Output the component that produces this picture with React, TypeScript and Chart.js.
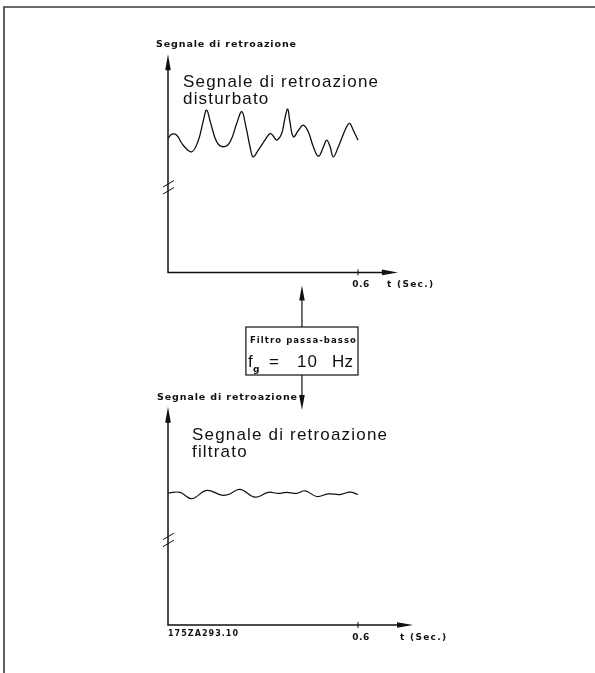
import React, { useEffect, useRef } from "react";
import { Chart, registerables } from "chart.js";

Chart.register(...registerables);

// ---- data ----
const timeDisturbed = [
  0, 0.012, 0.027, 0.048, 0.075, 0.096, 0.112, 0.122, 0.135, 0.154, 0.175, 0.196, 0.217, 0.233,
  0.246, 0.259, 0.269, 0.285, 0.306, 0.322, 0.333, 0.343, 0.359, 0.369, 0.378, 0.385, 0.396,
  0.412, 0.427, 0.443, 0.459, 0.475, 0.491, 0.501, 0.512, 0.522, 0.538, 0.559, 0.573, 0.585, 0.6,
];
const valuesDisturbed = [
  6.08, 6.27, 6.23, 5.77, 5.47, 6.0, 6.91, 7.36, 6.76, 5.92, 5.7, 5.92, 6.76, 7.29,
  6.61, 5.7, 5.24, 5.55, 6.0, 6.3, 6.18, 6.0, 6.3, 6.98, 7.41, 6.83, 6.15,
  6.45, 6.68, 6.38, 5.7, 5.27, 5.7, 6.0, 5.7, 5.24, 5.7, 6.45, 6.76, 6.45, 6.0,
];
const timeFiltered = [
  0, 0.038, 0.075, 0.122, 0.17, 0.19, 0.227, 0.275, 0.317, 0.348, 0.375, 0.406, 0.433, 0.47,
  0.506, 0.543, 0.575, 0.6,
];
const valuesFiltered = [
  5.99, 6.02, 5.73, 6.11, 5.89, 5.92, 6.15, 5.8, 6.02, 5.97, 6.02, 5.97, 6.09, 5.83,
  5.95, 5.92, 6.03, 5.92,
];
const xTickValue = 0.6;
const xTickLabel = "0.6";
const xAxisTitle = "t (Sec.)";
const yAxisTitle = "Segnale di retroazione";
const topPanelTitle = ["Segnale di retroazione", "disturbato"];
const bottomPanelTitle = ["Segnale di retroazione", "filtrato"];
const filterTitle = "Filtro passa-basso";
const filterSymbol = "f";
const filterSub = "g";
const filterEq = "=";
const filterValue = "10";
const filterUnit = "Hz";
const drawingCode = "175ZA293.10";
const breakValue = 3.85;

const INK = "#111111";

function fitText(ctx: CanvasRenderingContext2D, text: string, x: number, y: number, font: string, width?: number) {
  ctx.font = font;
  (ctx as any).letterSpacing = "0px";
  let ls = 0;
  if (width) {
    const w = ctx.measureText(text).width;
    ls = (width - w) / Math.max(1, text.length - 1);
    (ctx as any).letterSpacing = ls + "px";
  }
  ctx.fillText(text, x, y);
  (ctx as any).letterSpacing = "0px";
  return ls;
}

function arrow(ctx: CanvasRenderingContext2D, x: number, y: number, dir: string, len = 16, half = 3) {
  ctx.beginPath();
  if (dir === "up") {
    ctx.moveTo(x, y);
    ctx.lineTo(x - half, y + len);
    ctx.lineTo(x + half, y + len);
  } else if (dir === "down") {
    ctx.moveTo(x, y);
    ctx.lineTo(x - half, y - len);
    ctx.lineTo(x + half, y - len);
  } else {
    ctx.moveTo(x, y);
    ctx.lineTo(x - len, y - half);
    ctx.lineTo(x - len, y + half);
  }
  ctx.closePath();
  ctx.fill();
}

const drawingPlugin = {
  id: "drawing",
  afterDatasetsDraw(chart: any) {
    const ctx: CanvasRenderingContext2D = chart.ctx;
    const xs = chart.scales.x;
    ctx.save();
    ctx.strokeStyle = INK;
    ctx.fillStyle = INK;
    ctx.textBaseline = "alphabetic";
    ctx.textAlign = "left";

    // outer frame
    ctx.strokeStyle = "#3a3a3a";
    ctx.lineWidth = 1.6;
    ctx.beginPath();
    ctx.moveTo(4, 673);
    ctx.lineTo(4, 7);
    ctx.lineTo(595, 7);
    ctx.stroke();
    ctx.strokeStyle = INK;

    const bigFont = "17px 'Liberation Sans'";
    const panels = [
      { ys: chart.scales.yTop, xEnd: 0.726, title: topPanelTitle, titleX: 183 },
      { ys: chart.scales.yBottom, xEnd: 0.7737, title: bottomPanelTitle, titleX: 192 },
    ];
    panels.forEach((p, i) => {
      const x0 = xs.getPixelForValue(0);
      const y0 = p.ys.getPixelForValue(0);
      const yTip = p.ys.getPixelForValue(9.9);
      const xTip = xs.getPixelForValue(p.xEnd);
      ctx.lineWidth = 1.5;
      ctx.beginPath();
      ctx.moveTo(x0, yTip + 10);
      ctx.lineTo(x0, y0);
      ctx.lineTo(xTip - 10, y0);
      ctx.stroke();
      arrow(ctx, x0, yTip, "up", 16, 2.8);
      arrow(ctx, xTip, y0, "right", 16, 2.8);
      // tick
      const xt = xs.getPixelForValue(xTickValue);
      ctx.lineWidth = 1;
      ctx.beginPath();
      ctx.moveTo(xt, y0 - 3);
      ctx.lineTo(xt, y0 + 3);
      ctx.stroke();
      // break marks
      const yb = p.ys.getPixelForValue(breakValue);
      ctx.lineWidth = 1;
      [-3.5, 3.5].forEach((o) => {
        ctx.beginPath();
        ctx.moveTo(x0 - 5, yb + o + 3);
        ctx.lineTo(x0 + 6, yb + o - 3.5);
        ctx.stroke();
      });
      // labels
      ctx.textAlign = "center";
      fitText(ctx, xTickLabel, xt + 3, y0 + 15, "bold 9px 'DejaVu Sans'", 17);
      ctx.textAlign = "left";
      fitText(ctx, xAxisTitle, i === 0 ? 387 : 400, y0 + 15, "bold 9px 'DejaVu Sans'", 46);
      fitText(ctx, yAxisTitle, i === 0 ? 156 : 157, yTip - 7, "bold 9.5px 'DejaVu Sans'", 140);
      const ls = fitText(ctx, p.title[0], p.titleX, yTip + 33, bigFont, 195);
      ctx.font = bigFont;
      (ctx as any).letterSpacing = ls + "px";
      ctx.fillText(p.title[1], p.titleX, yTip + 50);
      (ctx as any).letterSpacing = "0px";
    });

    // filter box and arrows
    const yTopAxis = chart.scales.yTop.getPixelForValue(0);
    const xc = xs.getPixelForValue(0.423);
    const bx1 = xs.getPixelForValue(0.246);
    const bx2 = xs.getPixelForValue(0.6);
    const by1 = 327;
    const by2 = 375;
    ctx.lineWidth = 1.2;
    ctx.strokeRect(bx1, by1, bx2 - bx1, by2 - by1);
    ctx.beginPath();
    ctx.moveTo(xc, by1);
    ctx.lineTo(xc, yTopAxis + 25);
    ctx.stroke();
    arrow(ctx, xc, yTopAxis + 13, "up", 15, 2.8);
    ctx.beginPath();
    ctx.moveTo(xc, by2);
    ctx.lineTo(xc, 400);
    ctx.stroke();
    arrow(ctx, xc, 410, "down", 15, 2.8);

    const boxFont = "17px 'Liberation Sans'";
    fitText(ctx, filterTitle, bx1 + 4, 343, "bold 8.5px 'DejaVu Sans'", 106);
    fitText(ctx, filterSymbol, bx1 + 2, 367, boxFont);
    fitText(ctx, filterSub, bx1 + 7, 372, "bold 9px 'DejaVu Sans'");
    fitText(ctx, filterEq, 269, 367, boxFont);
    fitText(ctx, filterValue, 297, 367, boxFont, 20);
    fitText(ctx, filterUnit, 332, 367, boxFont, 21);

    fitText(ctx, drawingCode, 168, 636, "bold 8px 'DejaVu Sans'", 70);
    ctx.restore();
  },
};

export default function App() {
  const ref = useRef<HTMLCanvasElement | null>(null);
  useEffect(() => {
    if (!ref.current) return;
    const chart = new Chart(ref.current, {
      type: "line",
      data: {
        datasets: [
          {
            data: timeDisturbed.map((t, i) => ({ x: t, y: valuesDisturbed[i] })),
            yAxisID: "yTop",
            borderColor: INK,
            borderWidth: 1.3,
            pointRadius: 0,
            tension: 0.4,
            fill: false,
          },
          {
            data: timeFiltered.map((t, i) => ({ x: t, y: valuesFiltered[i] })),
            yAxisID: "yBottom",
            borderColor: INK,
            borderWidth: 1.2,
            pointRadius: 0,
            tension: 0.4,
            fill: false,
          },
        ],
      },
      options: {
        responsive: false,
        animation: false,
        devicePixelRatio: 1,
        layout: { padding: { left: 168, right: 182, top: 52, bottom: 48 } },
        scales: {
          x: { type: "linear", min: 0, max: 0.7737, display: false },
          yTop: { type: "linear", min: -16, max: 10, display: false },
          yBottom: { type: "linear", min: 0, max: 26, display: false },
        },
        plugins: { legend: { display: false }, tooltip: { enabled: false } },
      },
      plugins: [drawingPlugin],
    });
    return () => chart.destroy();
  }, []);
  return (
    <div style={{ position: "absolute", left: 0, top: 0, width: 595, height: 673, background: "#fff" }}>
      <canvas ref={ref} width={595} height={673} />
    </div>
  );
}
